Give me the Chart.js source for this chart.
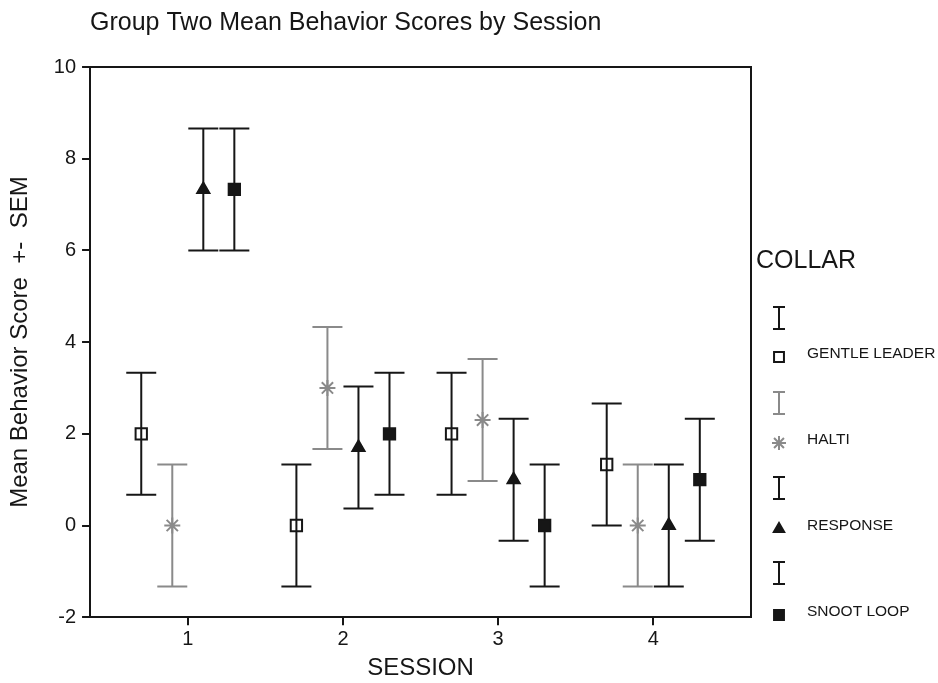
<!DOCTYPE html>
<html>
<head>
<meta charset="utf-8">
<script src="https://cdn.jsdelivr.net/npm/chart.js@4"></script>
<style>
  html, body { margin: 0; padding: 0; background: #fff; }
  canvas { display: block; }
</style>
</head>
<body>
<canvas id="chart" width="938" height="683"></canvas>
<script>
const sessions = [1, 2, 3, 4];
const collars = ["GENTLE LEADER", "HALTI", "RESPONSE", "SNOOT LOOP"];
const gentleLeader = [2, 0, 2, 1.33];
const halti = [0, 3, 2.3, 0];
const response = [7.33, 1.7, 1, 0];
const snootLoop = [7.33, 2, 0, 1];
const gentleLeaderSem = [1.33, 1.33, 1.33, 1.33];
const haltiSem = [1.33, 1.33, 1.33, 1.33];
const responseSem = [1.33, 1.33, 1.33, 1.33];
const snootLoopSem = [1.33, 1.33, 1.33, 1.33];
const yTicks = [-2, 0, 2, 4, 6, 8, 10];

const offsets = [-0.3, -0.1, 0.1, 0.3];
const means = [gentleLeader, halti, response, snootLoop];
const sems = [gentleLeaderSem, haltiSem, responseSem, snootLoopSem];
const colors = ["#161616", "#8a8a8a", "#161616", "#161616"];
const styles = ["rect", "star", "triangle", "rect"];
const radii = [8, 8, 7, 8];
const fills = ["rgba(0,0,0,0)", "#8a8a8a", "#161616", "#161616"];
const font = "'Liberation Sans', Arial, Helvetica, sans-serif";

let datasets = collars.map((name, i) => ({
    label: name,
    data: sessions.map((s, j) => ({ x: s + offsets[i], y: means[i][j], sem: sems[i][j] })),
    pointStyle: styles[i],
    pointRadius: radii[i],
    pointHoverRadius: radii[i],
    pointBackgroundColor: fills[i],
    pointBorderColor: colors[i],
    pointBorderWidth: 2,
    showLine: false
}));

// error bars, box and legend
let extras = {
    id: "extras",
    beforeDatasetsDraw(chart) {
        let ctx = chart.ctx;
        let x = chart.scales.x, y = chart.scales.y;
        ctx.save();
        ctx.lineWidth = 2;
        chart.data.datasets.forEach((ds, i) => {
            ctx.strokeStyle = colors[i];
            ds.data.forEach(p => {
                let px = x.getPixelForValue(p.x);
                let top = y.getPixelForValue(p.y + p.sem);
                let bot = y.getPixelForValue(p.y - p.sem);
                ctx.beginPath();
                ctx.moveTo(px, top); ctx.lineTo(px, bot);
                ctx.moveTo(px - 15, top); ctx.lineTo(px + 15, top);
                ctx.moveTo(px - 15, bot); ctx.lineTo(px + 15, bot);
                ctx.stroke();
            });
        });
        ctx.restore();
    },
    afterDraw(chart) {
        let ctx = chart.ctx;
        let a = chart.chartArea;
        ctx.save();
        ctx.strokeStyle = "#161616";
        ctx.lineWidth = 2;
        ctx.beginPath();
        ctx.moveTo(a.left, a.top); ctx.lineTo(a.right, a.top); ctx.lineTo(a.right, a.bottom);
        ctx.stroke();

        ctx.fillStyle = "#161616";
        ctx.textBaseline = "middle";
        ctx.font = "25px " + font;
        ctx.fillText("Group Two Mean Behavior Scores by Session", a.left, 23);

        ctx.font = "25px " + font;
        ctx.fillText("COLLAR", a.right + 5, 261);

        collars.forEach((name, i) => {
            let gy = 318 + i * 85;
            let my = 357 + i * 86;
            ctx.strokeStyle = colors[i];
            ctx.lineWidth = 2;
            ctx.beginPath();
            ctx.moveTo(779, gy - 11); ctx.lineTo(779, gy + 11);
            ctx.moveTo(773, gy - 11); ctx.lineTo(785, gy - 11);
            ctx.moveTo(773, gy + 11); ctx.lineTo(785, gy + 11);
            ctx.stroke();
            ctx.fillStyle = fills[i];
            ctx.strokeStyle = colors[i];
            Chart.helpers.drawPoint(ctx, { pointStyle: styles[i], radius: radii[i] - 1, borderWidth: 2 }, 779, my);
            ctx.fillStyle = "#161616";
            ctx.font = "15.5px " + font;
            ctx.fillText(name, 807, my - 3);
        });
        ctx.restore();
    }
};

new Chart(document.getElementById("chart"), {
    type: "scatter",
    data: { datasets: datasets },
    plugins: [extras],
    options: {
        responsive: false,
        animation: false,
        layout: { padding: { top: 67, right: 187, bottom: 0, left: 6 } },
        plugins: { legend: { display: false }, tooltip: { enabled: false } },
        scales: {
            x: {
                type: "linear",
                min: 0.37,
                max: 4.63,
                afterBuildTicks: axis => { axis.ticks = sessions.map(v => ({ value: v })); },
                grid: { drawOnChartArea: false, drawTicks: true, tickLength: 8, color: "#161616", lineWidth: 2 },
                border: { color: "#161616", width: 2 },
                ticks: { color: "#161616", font: { family: font, size: 20 }, padding: 2 },
                title: { display: true, text: "SESSION", color: "#161616", font: { family: font, size: 24 }, padding: { top: 1, bottom: 0 } }
            },
            y: {
                min: -2,
                max: 10,
                afterBuildTicks: axis => { axis.ticks = yTicks.map(v => ({ value: v })); },
                grid: { drawOnChartArea: false, drawTicks: true, tickLength: 8, color: "#161616", lineWidth: 2 },
                border: { color: "#161616", width: 2 },
                ticks: { color: "#161616", font: { family: font, size: 20 }, padding: 6 },
                title: { display: true, text: "Mean Behavior Score  +-  SEM", color: "#161616", font: { family: font, size: 24 }, padding: { top: 0, bottom: 13 } }
            }
        }
    }
});
</script>
</body>
</html>
